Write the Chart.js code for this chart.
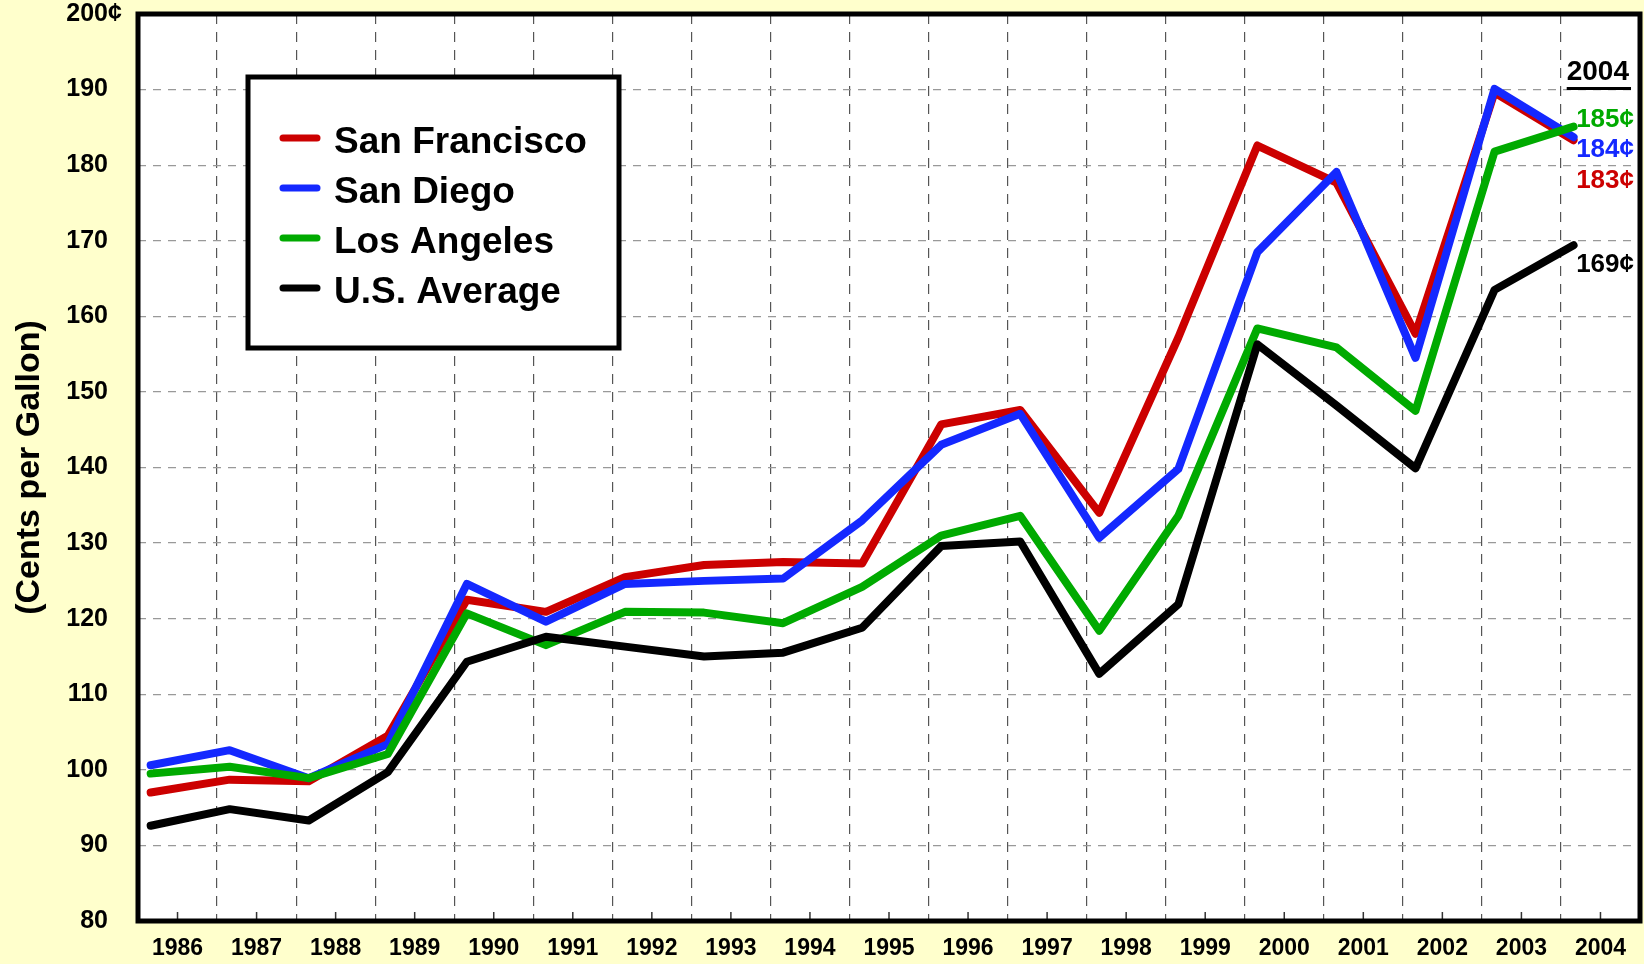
<!DOCTYPE html>
<html>
<head>
<meta charset="utf-8">
<title>Gasoline prices</title>
<script src="https://cdn.jsdelivr.net/npm/chart.js@4.4.1/dist/chart.umd.min.js"></script>
<style>
  html, body { margin: 0; padding: 0; background: #ffffcc; }
  #wrap { width: 1644px; height: 964px; position: relative; }
</style>
</head>
<body>
<div id="wrap"><canvas id="priceChart"></canvas></div>
<script>
'use strict';

// yearly average prices, cents per gallon
const years = [1986, 1987, 1988, 1989, 1990, 1991, 1992, 1993, 1994, 1995,
  1996, 1997, 1998, 1999, 2000, 2001, 2002, 2003, 2004];

const sanFrancisco = [97.0, 98.7, 98.5, 104.5, 122.5, 120.9, 125.5, 127.1, 127.5, 127.3,
  145.7, 147.6, 134.0, 157.2, 182.6, 177.7, 157.7, 189.6, 183.3];
const sanDiego = [100.6, 102.6, 98.9, 103.4, 124.6, 119.6, 124.6, 125.0, 125.3, 133.0,
  143.0, 147.1, 130.7, 139.8, 168.5, 179.1, 154.5, 190.1, 183.7];
const losAngeles = [99.5, 100.4, 98.9, 102.1, 120.7, 116.5, 120.9, 120.8, 119.4, 124.2,
  131.0, 133.6, 118.4, 133.6, 158.4, 155.9, 147.5, 181.8, 185.1];
const usAverage = [92.6, 94.8, 93.3, 99.7, 114.3, 117.6, 116.3, 115.0, 115.5, 118.8,
  129.6, 130.2, 112.7, 121.9, 156.3, 148.2, 139.9, 163.5, 169.4];

const yTicks = [80, 90, 100, 110, 120, 130, 140, 150, 160, 170, 180, 190, 200];

const FONT = "'Liberation Sans', Arial, sans-serif";

function series(values) {
  return values.map((v, i) => ({ x: years[i], y: v }));
}

function lineSet(label, values, color, order) {
  return {
    label: label,
    data: series(values),
    xAxisID: 'xp',
    yAxisID: 'y',
    borderColor: color,
    backgroundColor: color,
    borderWidth: 8,
    borderJoinStyle: 'round',
    borderCapStyle: 'round',
    pointRadius: 0,
    tension: 0,
    fill: false,
    order: order
  };
}

// white plot, frame, inside ticks, legend box and the 2004 labels
const plotFrame = {
  id: 'plotFrame',
  beforeDraw(chart) {
    const { ctx, chartArea: a } = chart;
    ctx.save();
    ctx.fillStyle = '#ffffff';
    ctx.fillRect(a.left, a.top, a.right - a.left, a.bottom - a.top);
    ctx.restore();
  },
  beforeDatasetsDraw(chart) {
    const { ctx, chartArea: a } = chart;
    const xs = chart.scales.x;
    ctx.save();
    ctx.strokeStyle = '#333';
    ctx.lineWidth = 1.5;
    ctx.beginPath();
    for (let i = 0; i < years.length; i++) {
      const px = xs.getPixelForTick(i);
      ctx.moveTo(px, a.bottom);
      ctx.lineTo(px, a.bottom - 9);
    }
    ctx.stroke();
    ctx.restore();
  },
  afterDatasetsDraw(chart, args, opts) {
    const { ctx, chartArea: a } = chart;
    const ys = chart.scales.y;
    ctx.save();

    // frame
    ctx.strokeStyle = '#000';
    ctx.lineWidth = 5;
    ctx.strokeRect(a.left, a.top, a.right - a.left, a.bottom - a.top);

    // cent sign after the top tick
    ctx.fillStyle = '#000';
    ctx.font = 'bold 25px ' + FONT;
    ctx.textAlign = 'left';
    ctx.textBaseline = 'middle';
    ctx.fillText('\u00a2', a.left - 30, ys.getPixelForValue(yTicks[yTicks.length - 1]));

    // legend box
    const lx = a.left + 110, ly = a.top + 63, lw = 371, lh = 271;
    ctx.fillStyle = '#fff';
    ctx.fillRect(lx, ly, lw, lh);
    ctx.lineWidth = 5;
    ctx.strokeStyle = '#000';
    ctx.strokeRect(lx, ly, lw, lh);
    ctx.font = 'bold 37px ' + FONT;
    chart.data.datasets.forEach((ds, i) => {
      const ry = ly + 61 + i * 50;
      ctx.strokeStyle = ds.borderColor;
      ctx.lineWidth = 7;
      ctx.lineCap = 'round';
      ctx.beginPath();
      ctx.moveTo(lx + 35, ry);
      ctx.lineTo(lx + 69, ry);
      ctx.stroke();
      ctx.fillStyle = '#000';
      ctx.fillText(ds.label, lx + 86, ry + 5);
    });

    // latest-year header and values
    const right = a.right - 6;
    ctx.textAlign = 'right';
    ctx.font = 'bold 28px ' + FONT;
    ctx.fillStyle = '#000';
    const head = String(years[years.length - 1]);
    const hy = a.top + 58;
    ctx.fillText(head, right - 5, hy);
    const hw = ctx.measureText(head).width;
    ctx.fillRect(right - 5 - hw, hy + 15, hw + 2, 3);

    ctx.font = 'bold 26px ' + FONT;
    chart.data.datasets.forEach((ds, i) => {
      const v = ds.data[ds.data.length - 1].y;
      ctx.fillStyle = ds.borderColor;
      ctx.fillText(Math.round(v) + '\u00a2', right, ys.getPixelForValue(v) + opts.shift[i]);
    });
    ctx.restore();
  }
};

const ctx = document.getElementById('priceChart').getContext('2d');
new Chart(ctx, {
  type: 'line',
  data: {
    datasets: [
      lineSet('San Francisco', sanFrancisco, '#cc0000', 4),
      lineSet('San Diego', sanDiego, '#1428ff', 3),
      lineSet('Los Angeles', losAngeles, '#00aa00', 2),
      lineSet('U.S. Average', usAverage, '#000000', 1)
    ]
  },
  plugins: [plotFrame],
  options: {
    responsive: true,
    maintainAspectRatio: false,
    animation: false,
    layout: { padding: { top: 14, right: 4, left: 0, bottom: 0 } },
    plugins: {
      legend: { display: false },
      tooltip: { enabled: false },
      plotFrame: { shift: [41, 13, -7, 20] }
    },
    scales: {
      x: {
        type: 'category',
        labels: years.map(String),
        offset: true,
        grid: { offset: true, color: '#555', lineWidth: 1.2, drawTicks: false },
        border: { display: false, dash: [10, 8] },
        ticks: {
          color: '#000',
          font: { family: FONT, size: 23, weight: 'bold' },
          padding: 14,
          maxRotation: 0,
          autoSkip: false
        },
        afterFit(scale) {
          scale.height = 43;
          scale.paddingLeft = 0;
          scale.paddingRight = 0;
        }
      },
      xp: {
        type: 'linear',
        display: false,
        min: years[0] - 0.16,
        max: years[years.length - 1] + 0.84
      },
      y: {
        type: 'linear',
        min: yTicks[0],
        max: yTicks[yTicks.length - 1],
        afterBuildTicks(scale) {
          scale.ticks = yTicks.map(v => ({ value: v }));
        },
        grid: {
          color: c => (c.tick && (c.tick.value === yTicks[0] || c.tick.value === yTicks[yTicks.length - 1])) ? 'rgba(0,0,0,0)' : '#999',
          lineWidth: 1.2,
          drawTicks: false
        },
        border: { display: false, dash: [8, 7] },
        ticks: {
          color: '#000',
          font: { family: FONT, size: 25, weight: 'bold' },
          padding: 30,
          callback: v => String(v)
        },
        title: {
          display: true,
          text: '(Cents per Gallon)',
          color: '#000',
          font: { family: FONT, size: 34, weight: 'bold' },
          padding: { top: 9, bottom: 0 }
        },
        afterFit(scale) {
          scale.width = 138;
          scale.paddingTop = 0;
          scale.paddingBottom = 0;
        }
      }
    }
  }
});
</script>
</body>
</html>
